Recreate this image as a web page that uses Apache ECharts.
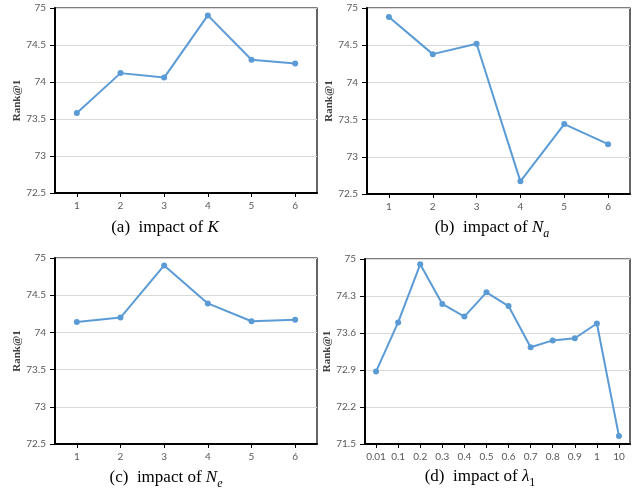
<!DOCTYPE html>
<html>
<head>
<meta charset="utf-8">
<script src="https://cdn.jsdelivr.net/npm/echarts@6/dist/echarts.min.js"></script>
<style>
html,body{margin:0;padding:0;background:#fff;}
#main{width:639px;height:495px;}
</style>
</head>
<body>
<div id="main"></div>
<script>
// data
var xK = ['1', '2', '3', '4', '5', '6'];
var rankK = [73.58, 74.12, 74.06, 74.90, 74.30, 74.25];

var xNa = ['1', '2', '3', '4', '5', '6'];
var rankNa = [74.88, 74.38, 74.52, 72.67, 73.44, 73.17];

var xNe = ['1', '2', '3', '4', '5', '6'];
var rankNe = [74.14, 74.20, 74.90, 74.39, 74.15, 74.17];

var xLambda = ['0.01', '0.1', '0.2', '0.3', '0.4', '0.5', '0.6', '0.7', '0.8', '0.9', '1', '10'];
var rankLambda = [72.87, 73.80, 74.90, 74.15, 73.91, 74.37, 74.11, 73.33, 73.46, 73.50, 73.78, 71.65];

var yTicks = [72.5, 73, 73.5, 74, 74.5, 75];
var yTicksLambda = [71.5, 72.2, 72.9, 73.6, 74.3, 75];

var blue = '#5b9bd5';
var gray = '#595959';

var grids = [
	{left: 55, top: 8, width: 262, height: 185},
	{left: 367, top: 8, width: 263, height: 186},
	{left: 55, top: 258, width: 262, height: 186},
	{left: 365, top: 259, width: 265, height: 185}
];
var nameGaps = [28, 27, 28, 26];

function makeX(i, cats){
	return {
		type: 'category', gridIndex: i, data: cats, boundaryGap: true,
		axisLine: {show: true, lineStyle: {color: '#000', width: 2}},
		axisTick: {show: true, alignWithLabel: true, length: 4, lineStyle: {color: '#000'}},
		axisLabel: {color: gray, fontSize: 10, fontFamily: 'Lato', margin: 8, interval: 0},
		splitLine: {show: false}
	};
}

function makeY(i, ticks){
	return {
		type: 'value', gridIndex: i, min: ticks[0], max: ticks[ticks.length - 1],
		name: 'Rank@1', nameLocation: 'middle', nameGap: nameGaps[i],
		nameTextStyle: {fontFamily: 'Liberation Serif', fontWeight: 'bold', fontSize: 11, color: '#404040'},
		axisLine: {show: true, lineStyle: {color: '#000', width: 2}},
		axisTick: {show: true, length: 5, customValues: ticks, lineStyle: {color: '#000'}},
		axisLabel: {color: gray, fontSize: 10, fontFamily: 'Lato', margin: 9, customValues: ticks},
		splitLine: {show: true, lineStyle: {color: '#d9d9d9', width: 1}}
	};
}

function makeLine(i, vals){
	return {
		type: 'line', xAxisIndex: i, yAxisIndex: i, data: vals,
		symbol: 'circle', symbolSize: 6, showSymbol: true,
		lineStyle: {color: blue, width: 2},
		itemStyle: {color: blue}
	};
}

var serif = 'Liberation Serif';
var capRich = {
	n: {fontFamily: serif, fontSize: 17, lineHeight: 24, fill: '#000'},
	i: {fontFamily: serif, fontSize: 17, fontStyle: 'italic', lineHeight: 24, fill: '#000'},
	si: {fontFamily: serif, fontSize: 12, fontStyle: 'italic', lineHeight: 14, verticalAlign: 'bottom', fill: '#000'},
	s: {fontFamily: serif, fontSize: 12, lineHeight: 14, verticalAlign: 'bottom', fill: '#000'}
};

function caption(x, y, txt){
	return {
		type: 'text', x: x, y: y,
		style: {text: txt, rich: capRich, align: 'center', verticalAlign: 'middle'}
	};
}

var myChart = echarts.init(document.getElementById('main'));

var option = {
	animation: false,
	backgroundColor: '#fff',
	grid: grids.map(function(g){
		return {left: g.left, top: g.top, width: g.width, height: g.height,
			show: true, borderColor: '#000', borderWidth: 1.2, containLabel: false};
	}),
	xAxis: [makeX(0, xK), makeX(1, xNa), makeX(2, xNe), makeX(3, xLambda)],
	yAxis: [makeY(0, yTicks), makeY(1, yTicks), makeY(2, yTicks), makeY(3, yTicksLambda)],
	series: [makeLine(0, rankK), makeLine(1, rankNa), makeLine(2, rankNe), makeLine(3, rankLambda)],
	graphic: [
		caption(165, 228, '{n|(a)  impact of }{i|K}'),
		caption(492, 228, '{n|(b)  impact of }{i|N}{si|a}'),
		caption(166, 478, '{n|(c)  impact of }{i|N}{si|e}'),
		caption(480, 477, '{n|(d)  impact of }{i|λ}{s|1}')
	]
};

myChart.setOption(option);
</script>
</body>
</html>
